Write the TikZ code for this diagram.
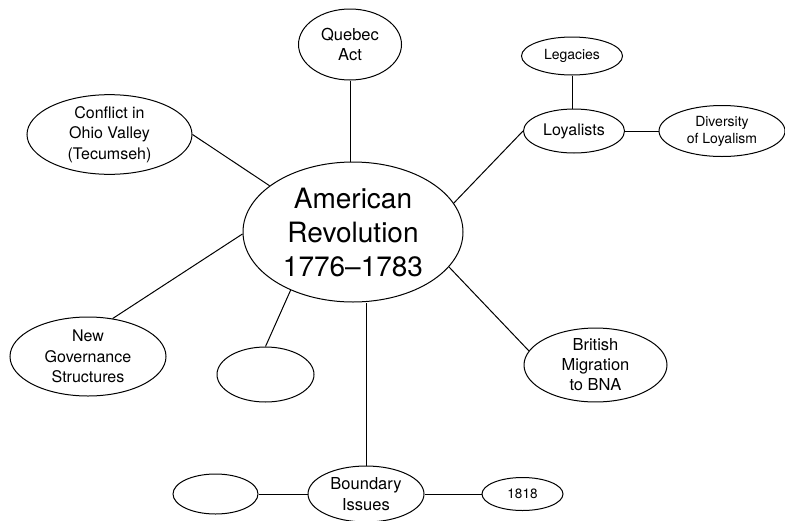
\documentclass[tikz,border=0pt]{standalone}
\usepackage{fontspec}
\setmainfont{TeX Gyre Heros}
\usetikzlibrary{shapes.geometric}
\begin{document}
\begin{tikzpicture}[x=1pt,y=-1pt,
  bub/.style={ellipse,draw,line width=1pt,inner sep=0pt,align=center},
  conn/.style={line width=1pt}]
\useasboundingbox (0,0) rectangle (785,520);
\node[bub, minimum width=220pt, minimum height=140pt, font=\fontsize{28}{34}\selectfont] (c) at (353,232) {American\\Revolution\\1776--1783};
\node[bub, minimum width=103pt, minimum height=71pt, font=\fontsize{16.5}{19.5}\selectfont] (q) at (350,44.5) {Quebec\\Act};
\node[bub, minimum width=165pt, minimum height=75pt, font=\fontsize{16}{20.5}\selectfont] (ohio) at (109.5,134.5) {Conflict in\\Ohio Valley\\(Tecumseh)};
\node[bub, minimum width=101pt, minimum height=38pt, font=\fontsize{14}{17}\selectfont] (leg) at (572,56) {Legacies};
\node[bub, minimum width=101pt, minimum height=44pt, font=\fontsize{16}{19}\selectfont] (loy) at (574,131) {Loyalists};
\node[bub, minimum width=126pt, minimum height=51pt, font=\fontsize{14}{17}\selectfont] (div) at (722,131) {Diversity\\of Loyalism};
\node[bub, minimum width=156pt, minimum height=79pt, font=\fontsize{16}{20.5}\selectfont] (ng) at (88,356.5) {New\\Governance\\Structures};
\node[bub, minimum width=97pt, minimum height=55pt] (e1) at (265.5,374.5) {};
\node[bub, minimum width=143pt, minimum height=70pt, font=\fontsize{16.5}{20}\selectfont] (mig) at (595.5,365) {British\\Migration\\to BNA};
\node[bub, minimum width=116pt, minimum height=56pt, font=\fontsize{16.5}{20.5}\selectfont] (b) at (366,494) {Boundary\\Issues};
\node[bub, minimum width=85pt, minimum height=40pt] (e2) at (215.5,494) {};
\node[bub, minimum width=81pt, minimum height=33pt, font=\fontsize{13.5}{16}\selectfont] (y1818) at (522.5,494) {1818};
\draw[conn] (q.south) -- (q.south |- c.north);
\draw[conn] (ohio.east) -- (c.151.5);
\draw[conn] (loy.west) -- (c.16.7);
\draw[conn] (leg.south) -- (leg.south |- loy.north);
\draw[conn] (loy.east) -- (div.west);
\draw[conn] (ng.57) -- (c.181);
\draw[conn] (e1.north) -- (c.223);
\draw[conn] (mig.168) -- (c.-20.8);
\draw[conn] (b.north) -- (b.north |- c.south);
\draw[conn] (e2.east) -- (b.west);
\draw[conn] (b.east) -- (y1818.west);
\end{tikzpicture}
\end{document}
